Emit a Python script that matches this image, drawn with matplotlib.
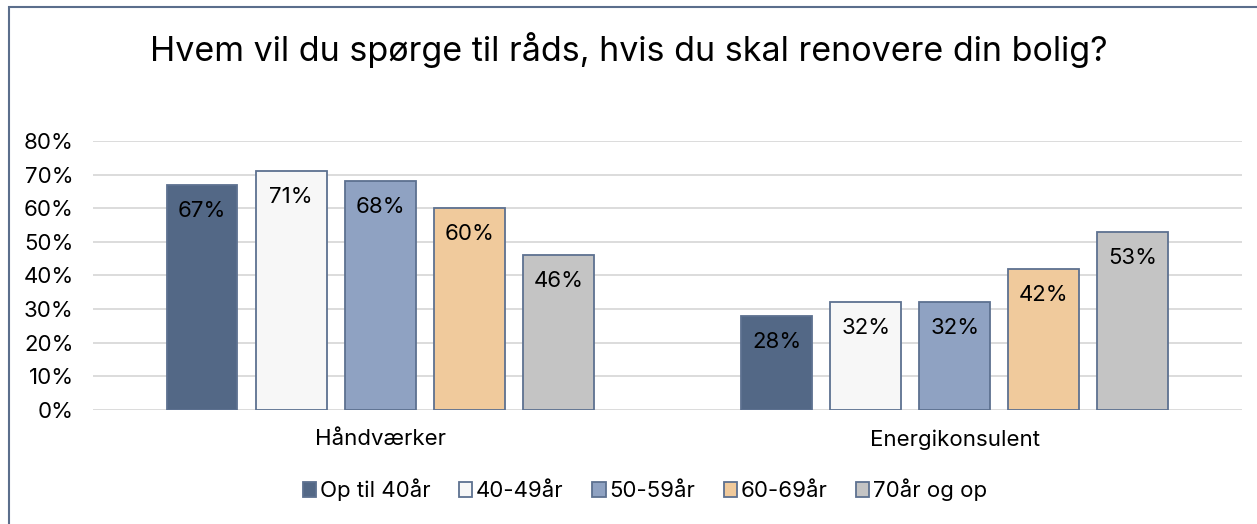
import matplotlib.pyplot as plt
import numpy as np
from matplotlib.patches import Rectangle

plt.rcParams['font.family'] = ['Inter', 'DejaVu Sans']

categories = ["Håndværker", "Energikonsulent"]
groups = ["Op til 40år", "40-49år", "50-59år", "60-69år", "70år og op"]
values = [
    [0.67, 0.28],
    [0.71, 0.32],
    [0.68, 0.32],
    [0.60, 0.42],
    [0.46, 0.53],
]
colors = ["#536886", "#F7F7F7", "#8FA2C2", "#F0CA9C", "#C4C4C4"]
edge = "#5D7190"

fig = plt.figure(figsize=(12.57, 5.24), dpi=100)
ax = fig.add_axes([0.074, 0.2176, 0.914, 0.5134])

x = np.arange(len(categories))
step = 0.155
width = 0.123
for i, (g, vals, c) in enumerate(zip(groups, values, colors)):
    pos = x + (i - 2) * step
    bars = ax.bar(pos, vals, width, color=c, edgecolor=edge, linewidth=1.3,
                  label=g, zorder=3)
    for b, v in zip(bars, vals):
        ax.annotate(f"{v:.0%}", (b.get_x() + b.get_width() / 2, v),
                    xytext=(0, -26), textcoords="offset pixels",
                    ha="center", va="center", fontsize=16, color="black",
                    zorder=4)

ax.set_xlim(-0.5, 1.5)
ax.set_ylim(0, 0.8)
ax.set_yticks(np.arange(0, 0.81, 0.1))
ax.set_yticklabels([f"{t:.0%}" for t in np.arange(0, 0.81, 0.1)], fontsize=16)
ax.set_xticks(x)
ax.set_xticklabels(categories, fontsize=16)
ax.tick_params(axis="y", length=0, pad=14)
ax.tick_params(axis="x", length=0, pad=14)
ax.yaxis.grid(True, color="#D9D9D9", linewidth=1.3, zorder=0)
for s in ax.spines.values():
    s.set_visible(False)

fig.suptitle("Hvem vil du spørge til råds, hvis du skal renovere din bolig?",
             fontsize=24.5, y=0.905, x=0.5, va="center")

leg = fig.legend(loc="center", bbox_to_anchor=(0.513, 0.065), ncol=5,
                 frameon=False, fontsize=16, handlelength=0.6,
                 handleheight=0.6, handletextpad=0.15, columnspacing=1.3)

fig.patches.append(Rectangle((0.007, -0.05), 1.1, 1.037, transform=fig.transFigure,
                             fill=False, edgecolor="#5B6E8C", linewidth=1.5))

fig.savefig("out.png", dpi=100)
